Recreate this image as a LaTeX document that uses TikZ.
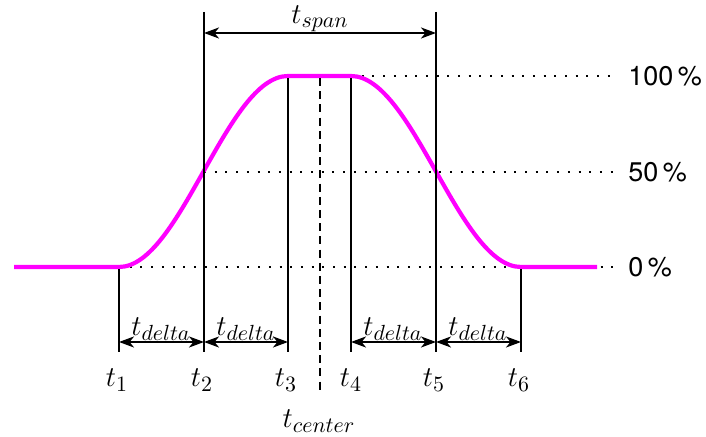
\documentclass[tikz,border=0pt]{standalone}
\usepackage{fontspec}
\setsansfont{TeX Gyre Heros}
\usetikzlibrary{arrows.meta}
\definecolor{sigmag}{RGB}{255,0,255}
\begin{document}
\begin{tikzpicture}[x=0.5pt,y=-0.5pt,
  sig/.style={draw=sigmag, line width=2.1pt},
  vline/.style={line width=1pt},
  cline/.style={line width=1pt, dash pattern=on 4pt off 2.6pt},
  dotline/.style={line width=1pt, dash pattern=on 1pt off 4.35pt},
  dim/.style={line width=1pt, {Stealth[length=7.5pt,width=5.5pt,inset=2.2pt]}-{Stealth[length=7.5pt,width=5.5pt,inset=2.2pt]}},
  mlab/.style={font=\fontsize{15}{18}\selectfont, inner sep=0pt},
  plab/.style={font=\sffamily\fontsize{13.5}{16}\selectfont, anchor=west, inner sep=0pt}]
\useasboundingbox (0,0) rectangle (706,437);
% key points
\coordinate (s0) at (14,267);
\coordinate (a1) at (119,267);
\coordinate (b1) at (119,352);
\coordinate (m2) at (204,172);
\coordinate (a2) at (204,12);
\coordinate (b2) at (204,352);
\coordinate (a3) at (288,76);
\coordinate (b3) at (288,352);
\coordinate (a4) at (351,76);
\coordinate (b4) at (351,352);
\coordinate (a5) at (436,12);
\coordinate (b5) at (436,352);
\coordinate (a6) at (521,267);
\coordinate (b6) at (521,352);
\coordinate (s7) at (597,267);
\coordinate (c0) at (320,76);
\coordinate (c1) at (320,392);
\coordinate (d0) at (615,267);
\coordinate (d50) at (615,172);
\coordinate (d100) at (615,76);
% arrow ends
\coordinate (e1) at (119,342);
\coordinate (e2) at (204,342);
\coordinate (e3) at (288,342);
\coordinate (e4) at (351,342);
\coordinate (e5) at (436,342);
\coordinate (e6) at (521,342);
\coordinate (f2) at (204,33);
\coordinate (f5) at (436,33);
% dotted level lines
\draw[dotline] (a1) -- (d0);
\draw[dotline] (m2) -- (d50);
\draw[dotline] (a4) -- (d100);
% signal
\draw[sig] (s0) -- (a1) .. controls (180.5,267) and (226.5,76) .. (a3) -- (a4)
  .. controls (413,76) and (459,267) .. (a6) -- (s7);
% vertical lines
\draw[vline] ([yshift=-1pt]a1) -- (b1);
\draw[vline] (a2) -- (b2);
\draw[vline] ([yshift=-1pt]a3) -- (b3);
\draw[vline] ([yshift=-1pt]a4) -- (b4);
\draw[vline] (a5) -- (b5);
\draw[vline] ([yshift=-1pt]a6) -- (b6);
\draw[cline] ([yshift=-1pt]c0) -- (c1);
% dimension arrows
\draw[dim] (f2) -- (f5);
\draw[dim] (e1) -- (e2);
\draw[dim] (e2) -- (e3);
\draw[dim] (e4) -- (e5);
\draw[dim] (e5) -- (e6);
% labels
\node[mlab] (lspan) at (320,19) {$t_{span}$};
\node[mlab] (ld1) at (161,329) {$t_{delta}$};
\node[mlab] (ld2) at (246,329) {$t_{delta}$};
\node[mlab] (ld3) at (393,329) {$t_{delta}$};
\node[mlab] (ld4) at (478,329) {$t_{delta}$};
\node[mlab] (l1) at (117,380) {$t_1$};
\node[mlab] (l2) at (202,380) {$t_2$};
\node[mlab] (l3) at (286,380) {$t_3$};
\node[mlab] (l4) at (351,380) {$t_4$};
\node[mlab] (l5) at (434,380) {$t_5$};
\node[mlab] (l6) at (519,380) {$t_6$};
\node[mlab] (lc) at (319,421) {$t_{center}$};
\node[plab] (p100) at (628,76) {100\,\%};
\node[plab] (p50) at (628,172) {50\,\%};
\node[plab] (p0) at (628,267) {0\,\%};
\end{tikzpicture}
\end{document}
